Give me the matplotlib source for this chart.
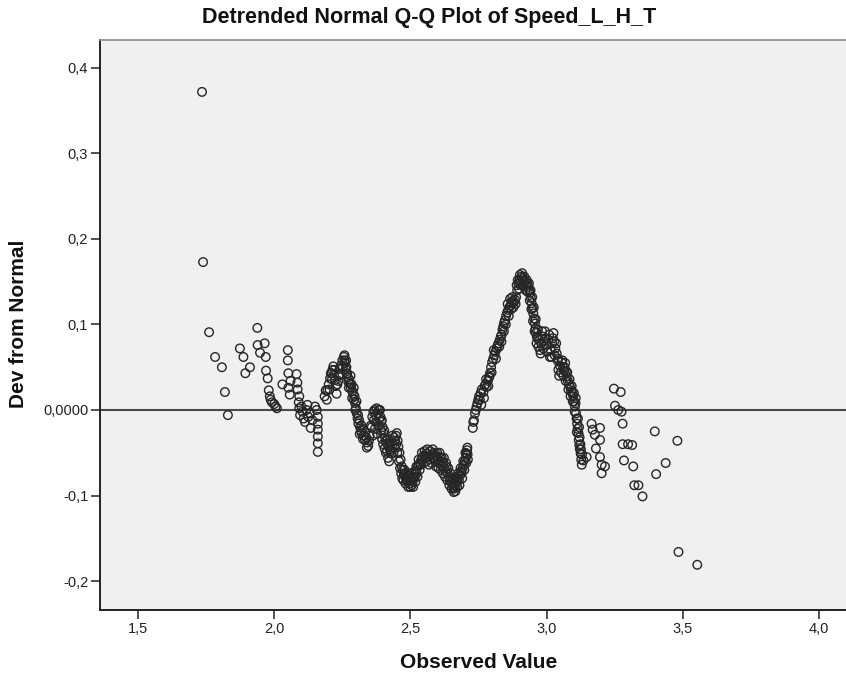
"""Detrended normal Q-Q plot of Speed_L_H_T (SPSS-style rendering)."""

import matplotlib
matplotlib.use("Agg")
import matplotlib.pyplot as plt
from matplotlib.ticker import FixedLocator, FixedFormatter

plt.rcParams["font.family"] = ["Liberation Sans", "DejaVu Sans"]

# observed value / deviation from normal, in ascending order of observed value
obs_tail_low = [1.735, 1.739, 1.761, 1.783, 1.808, 1.819, 1.830]
dev_tail_low = [0.372, 0.173, 0.091, 0.062, 0.050, 0.021, -0.006]

obs_low = [1.874, 1.887, 1.894, 1.911, 1.938, 1.939, 1.948, 1.965, 1.969,
           1.970, 1.976, 1.980, 1.984, 1.987, 1.992, 2.000, 2.005, 2.010,
           2.030, 2.050, 2.050, 2.052, 2.052, 2.057, 2.060, 2.082, 2.085,
           2.086, 2.090, 2.092, 2.092, 2.095, 2.100, 2.104, 2.108, 2.113,
           2.118, 2.122, 2.125, 2.131, 2.134, 2.140, 2.150, 2.156, 2.160,
           2.160, 2.160, 2.160, 2.160, 2.160]
dev_low = [0.072, 0.062, 0.043, 0.050, 0.096, 0.076, 0.067, 0.078, 0.062,
           0.046, 0.037, 0.023, 0.016, 0.012, 0.009, 0.007, 0.004, 0.002,
           0.030, 0.070, 0.058, 0.043, 0.026, 0.018, 0.034, 0.042, 0.032,
           0.024, 0.009, 0.016, 0.002, -0.006, 0.004, -0.002, -0.010, -0.014,
           0.000, 0.006, -0.008, -0.004, -0.021, -0.012, 0.004, 0.000, -0.008,
           -0.016, -0.023, -0.031, -0.039, -0.049]

obs_bump = [2.185, 2.189, 2.193, 2.195, 2.200, 2.205, 2.208, 2.211, 2.214,
            2.217, 2.220, 2.223, 2.226, 2.229, 2.232, 2.236, 2.240, 2.245,
            2.250, 2.256, 2.258, 2.260, 2.262, 2.265, 2.268, 2.270, 2.272,
            2.275, 2.278, 2.281, 2.284, 2.287, 2.290, 2.293, 2.295, 2.297,
            2.300, 2.303, 2.306, 2.309, 2.312, 2.315, 2.318, 2.321, 2.325,
            2.328, 2.333, 2.338, 2.341, 2.345, 2.350, 2.355]
dev_bump = [0.016, 0.023, 0.012, 0.023, 0.030, 0.037, 0.043, 0.043, 0.047,
            0.051, 0.040, 0.035, 0.028, 0.019, 0.030, 0.040, 0.048, 0.052,
            0.058, 0.062, 0.058, 0.055, 0.048, 0.050, 0.043, 0.038, 0.033,
            0.036, 0.031, 0.026, 0.030, 0.022, 0.019, 0.012, 0.016, 0.008,
            0.002, -0.004, -0.010, -0.016, -0.012, -0.020, -0.024, -0.027, -0.022,
            -0.030, -0.035, -0.032, -0.038, -0.042, -0.030, -0.018]

obs_trough = [2.360, 2.364, 2.368, 2.372, 2.376, 2.380, 2.384, 2.388, 2.390,
              2.393, 2.395, 2.398, 2.401, 2.404, 2.407, 2.410, 2.413, 2.416,
              2.420, 2.424, 2.428, 2.431, 2.436, 2.440, 2.444, 2.447, 2.450,
              2.453, 2.456, 2.460, 2.464, 2.468, 2.472, 2.476, 2.480, 2.483,
              2.486, 2.490, 2.494, 2.498, 2.502, 2.505, 2.508, 2.512, 2.516,
              2.520, 2.523, 2.527, 2.531, 2.535, 2.540, 2.545, 2.550, 2.555,
              2.560, 2.565, 2.570, 2.575, 2.580, 2.584, 2.588, 2.592, 2.596,
              2.600, 2.605, 2.609, 2.613, 2.617, 2.621, 2.625, 2.629, 2.633,
              2.637, 2.641, 2.645, 2.649, 2.653, 2.657, 2.660, 2.663, 2.666,
              2.670, 2.674, 2.678, 2.682, 2.685, 2.688, 2.692, 2.696, 2.700,
              2.703, 2.706, 2.708, 2.710]
dev_trough = [-0.008, -0.002, 0.000, -0.006, 0.002, -0.004, 0.000, 0.000, -0.008,
              -0.014, -0.012, -0.020, -0.027, -0.024, -0.032, -0.036, -0.039, -0.034,
              -0.042, -0.046, -0.048, -0.051, -0.040, -0.032, -0.036, -0.030, -0.027,
              -0.036, -0.043, -0.050, -0.058, -0.066, -0.070, -0.075, -0.078, -0.074,
              -0.082, -0.084, -0.080, -0.086, -0.082, -0.088, -0.084, -0.080, -0.078,
              -0.072, -0.074, -0.066, -0.064, -0.062, -0.058, -0.055, -0.053, -0.056,
              -0.051, -0.054, -0.058, -0.053, -0.056, -0.051, -0.056, -0.060, -0.055,
              -0.058, -0.062, -0.055, -0.060, -0.066, -0.062, -0.068, -0.072, -0.066,
              -0.074, -0.078, -0.082, -0.080, -0.086, -0.090, -0.092, -0.086, -0.089,
              -0.084, -0.080, -0.082, -0.076, -0.072, -0.074, -0.068, -0.064, -0.060,
              -0.056, -0.051, -0.047, -0.052]

obs_peak = [2.729, 2.731, 2.733, 2.737, 2.740, 2.743, 2.746, 2.749, 2.752,
            2.755, 2.758, 2.762, 2.768, 2.772, 2.776, 2.780, 2.784, 2.788,
            2.790, 2.792, 2.796, 2.800, 2.804, 2.808, 2.812, 2.817, 2.820,
            2.823, 2.828, 2.832, 2.835, 2.838, 2.841, 2.844, 2.847, 2.851,
            2.855, 2.859, 2.863, 2.867, 2.872, 2.876, 2.880, 2.884, 2.888,
            2.892, 2.896, 2.900, 2.904, 2.908, 2.912, 2.916, 2.921, 2.925,
            2.929, 2.933, 2.936, 2.939, 2.942, 2.945, 2.948, 2.951, 2.954,
            2.957, 2.959, 2.961, 2.963, 2.966, 2.970, 2.976, 2.980, 2.985,
            2.990, 2.994, 3.000, 3.006, 3.012, 3.015, 3.020, 3.025, 3.028,
            3.032, 3.037, 3.040, 3.043, 3.048, 3.054, 3.060, 3.064, 3.068,
            3.071, 3.074, 3.078, 3.082, 3.086, 3.090, 3.094, 3.098, 3.101,
            3.104, 3.106, 3.108, 3.110, 3.112, 3.114, 3.117, 3.118, 3.120,
            3.122, 3.125, 3.127, 3.129, 3.135, 3.147]
dev_peak = [-0.021, -0.014, -0.012, -0.004, 0.000, 0.004, 0.008, 0.012, 0.016,
            0.012, 0.020, 0.024, 0.021, 0.028, 0.030, 0.027, 0.034, 0.038,
            0.039, 0.043, 0.050, 0.056, 0.060, 0.064, 0.068, 0.072, 0.075,
            0.078, 0.082, 0.086, 0.088, 0.094, 0.098, 0.102, 0.105, 0.110,
            0.114, 0.117, 0.120, 0.122, 0.125, 0.128, 0.126, 0.129, 0.132,
            0.140, 0.148, 0.152, 0.150, 0.156, 0.154, 0.152, 0.150, 0.146,
            0.148, 0.144, 0.140, 0.137, 0.131, 0.125, 0.119, 0.113, 0.107,
            0.101, 0.095, 0.090, 0.078, 0.084, 0.074, 0.070, 0.078, 0.086,
            0.080, 0.092, 0.076, 0.082, 0.062, 0.070, 0.078, 0.090, 0.080,
            0.072, 0.066, 0.058, 0.047, 0.052, 0.056, 0.050, 0.046, 0.055,
            0.045, 0.039, 0.034, 0.030, 0.027, 0.022, 0.020, 0.016, 0.010,
            0.004, 0.008, -0.004, -0.010, -0.016, -0.022, -0.027, -0.035, -0.041,
            -0.046, -0.051, -0.058, -0.064, -0.059, -0.055]

# tied observations that widen the dense middle band
obs_ties = [2.203, 2.212, 2.222, 2.235, 2.243, 2.252, 2.258, 2.264, 2.266,
            2.274, 2.280, 2.286, 2.292, 2.298, 2.302, 2.308, 2.314, 2.320,
            2.326, 2.334, 2.340, 2.348,
            2.358, 2.362, 2.366, 2.370, 2.374, 2.378, 2.382, 2.386, 2.392,
            2.396, 2.400, 2.405, 2.410, 2.414, 2.418, 2.422, 2.426, 2.434,
            2.438, 2.442, 2.448, 2.452, 2.458, 2.462, 2.466, 2.470, 2.474,
            2.478, 2.482, 2.488, 2.492, 2.496, 2.500, 2.506, 2.510, 2.514,
            2.518, 2.522, 2.526, 2.530, 2.534, 2.538, 2.542, 2.548, 2.552,
            2.558, 2.562, 2.568, 2.572, 2.578, 2.582, 2.590, 2.594, 2.598,
            2.603, 2.607, 2.611, 2.615, 2.619, 2.623, 2.627, 2.631, 2.635,
            2.639, 2.643, 2.647, 2.651, 2.655, 2.659, 2.662, 2.665, 2.668,
            2.672, 2.676, 2.680, 2.684, 2.690, 2.694, 2.698, 2.702, 2.705,
            2.709, 2.711,
            2.760, 2.770, 2.778, 2.786, 2.798, 2.806, 2.814, 2.826, 2.834,
            2.843, 2.850, 2.857, 2.861, 2.866, 2.870, 2.874, 2.878, 2.886,
            2.890, 2.894, 2.898, 2.902, 2.906, 2.910, 2.914, 2.918, 2.923,
            2.927, 2.931, 2.935, 2.938, 2.941, 2.944, 2.947, 2.950, 2.953,
            2.956, 2.960, 2.964, 2.968, 2.972, 2.978, 2.983, 2.988, 2.996,
            3.002, 3.009, 3.018, 3.023, 3.030, 3.035, 3.042, 3.046, 3.052,
            3.058, 3.062, 3.066, 3.070, 3.076, 3.080, 3.084, 3.088, 3.092,
            3.096, 3.100, 3.103, 3.107, 3.111, 3.115, 3.119, 3.121, 3.124,
            3.126, 3.130]
dev_ties = [0.024, 0.036, 0.047, 0.034, 0.042, 0.050, 0.064, 0.058, 0.042,
            0.026, 0.040, 0.014, 0.026, 0.000, 0.010, -0.006, -0.028, -0.018,
            -0.034, -0.026, -0.044, -0.036,
            -0.020, -0.030, -0.012, -0.022, -0.014, -0.028, -0.018, -0.010, -0.024,
            -0.034, -0.040, -0.045, -0.050, -0.048, -0.056, -0.060, -0.038, -0.030,
            -0.050, -0.044, -0.040, -0.050, -0.060, -0.068, -0.074, -0.080, -0.082,
            -0.070, -0.086, -0.076, -0.090, -0.074, -0.090, -0.078, -0.090, -0.072,
            -0.084, -0.066, -0.078, -0.058, -0.070, -0.064, -0.050, -0.062, -0.048,
            -0.060, -0.046, -0.064, -0.048, -0.062, -0.046, -0.050, -0.066, -0.050,
            -0.068, -0.050, -0.070, -0.056, -0.074, -0.056, -0.078, -0.062, -0.082,
            -0.068, -0.088, -0.074, -0.092, -0.080, -0.096, -0.080, -0.095, -0.078,
            -0.090, -0.074, -0.088, -0.068, -0.080, -0.060, -0.070, -0.050, -0.062,
            -0.044, -0.058,
            0.006, 0.014, 0.036, 0.028, 0.044, 0.070, 0.060, 0.074, 0.080,
            0.092, 0.100, 0.124, 0.110, 0.130, 0.118, 0.132, 0.120, 0.124,
            0.146, 0.152, 0.142, 0.158, 0.146, 0.160, 0.146, 0.156, 0.140,
            0.152, 0.138, 0.148, 0.128, 0.140, 0.118, 0.132, 0.104, 0.120,
            0.092, 0.106, 0.086, 0.094, 0.082, 0.066, 0.092, 0.072, 0.084,
            0.068, 0.088, 0.062, 0.084, 0.064, 0.078, 0.060, 0.040, 0.044,
            0.058, 0.040, 0.050, 0.034, 0.044, 0.024, 0.036, 0.016, 0.028,
            0.010, 0.020, -0.002, 0.014, -0.026, -0.010, -0.020, -0.032, -0.040,
            -0.046, -0.052]

obs_tail_high = [3.165, 3.169, 3.177, 3.181, 3.196, 3.196, 3.196, 3.202, 3.202,
                 3.214, 3.247, 3.251, 3.263, 3.272, 3.275, 3.279, 3.279, 3.284,
                 3.299, 3.314, 3.318, 3.322, 3.337, 3.352, 3.397, 3.402, 3.437,
                 3.480, 3.484, 3.553]
dev_tail_high = [-0.016, -0.023, -0.029, -0.045, -0.021, -0.035, -0.055, -0.064, -0.074,
                 -0.066, 0.025, 0.005, 0.000, 0.021, -0.002, -0.016, -0.040, -0.059,
                 -0.040, -0.041, -0.066, -0.088, -0.088, -0.101, -0.025, -0.075, -0.062,
                 -0.036, -0.166, -0.181]

x_ticks = [1.5, 2.0, 2.5, 3.0, 3.5, 4.0]
x_tick_labels = ["1,5", "2,0", "2,5", "3,0", "3,5", "4,0"]
y_ticks = [-0.2, -0.1, 0.0, 0.1, 0.2, 0.3, 0.4]
y_tick_labels = ["-0,2", "-0,1", "0,0000", "0,1", "0,2", "0,3", "0,4"]

observed = (obs_tail_low + obs_low + obs_bump + obs_trough + obs_peak
            + obs_ties + obs_tail_high)
deviation = (dev_tail_low + dev_low + dev_bump + dev_trough + dev_peak
             + dev_ties + dev_tail_high)

W, H = 846, 677
fig = plt.figure(figsize=(W / 100, H / 100), dpi=100)
fig.patch.set_facecolor("white")

# plot frame runs off the right edge, like the exported SPSS chart
ax = fig.add_axes([100 / W, (H - 610) / H, (W - 100) / W + 0.01, 570 / H])
ax.set_facecolor("#f0f0f0")
ax.set_xlim(1.3605, 4.099 + 0.01 * W / 272.4)
ax.set_ylim(-0.2339, 0.4327)

ax.axhline(0.0, color="#4a4a4a", lw=1.5, zorder=2)
ax.scatter(observed, deviation, s=38, facecolors="none",
           edgecolors="#262626", linewidths=1.0, zorder=3)

ax.xaxis.set_major_locator(FixedLocator(x_ticks))
ax.xaxis.set_major_formatter(FixedFormatter(x_tick_labels))
ax.yaxis.set_major_locator(FixedLocator(y_ticks))
ax.yaxis.set_major_formatter(FixedFormatter(y_tick_labels))
ax.tick_params(axis="both", direction="out", length=6.5, width=1.1,
               color="#222222", labelsize=10.5, labelcolor="#222222", pad=2)

for side in ("left", "bottom"):
    ax.spines[side].set_color("#222222")
    ax.spines[side].set_linewidth(1.4)
ax.spines["top"].set_color("#8c8c8c")
ax.spines["top"].set_linewidth(1.2)
ax.spines["right"].set_visible(False)

fig.text(429 / W, 1 - 18 / H, "Detrended Normal Q-Q Plot of Speed_L_H_T",
         ha="center", va="center", fontsize=15.5, fontweight="bold", color="#111111")
fig.text(479 / W, 1 - 662 / H, "Observed Value", ha="center", va="center",
         fontsize=15, fontweight="bold", color="#111111")
fig.text(18 / W, 1 - 324 / H, "Dev from Normal", ha="center", va="center",
         rotation=90, fontsize=15, fontweight="bold", color="#111111")

fig.savefig("out.png", dpi=100)
